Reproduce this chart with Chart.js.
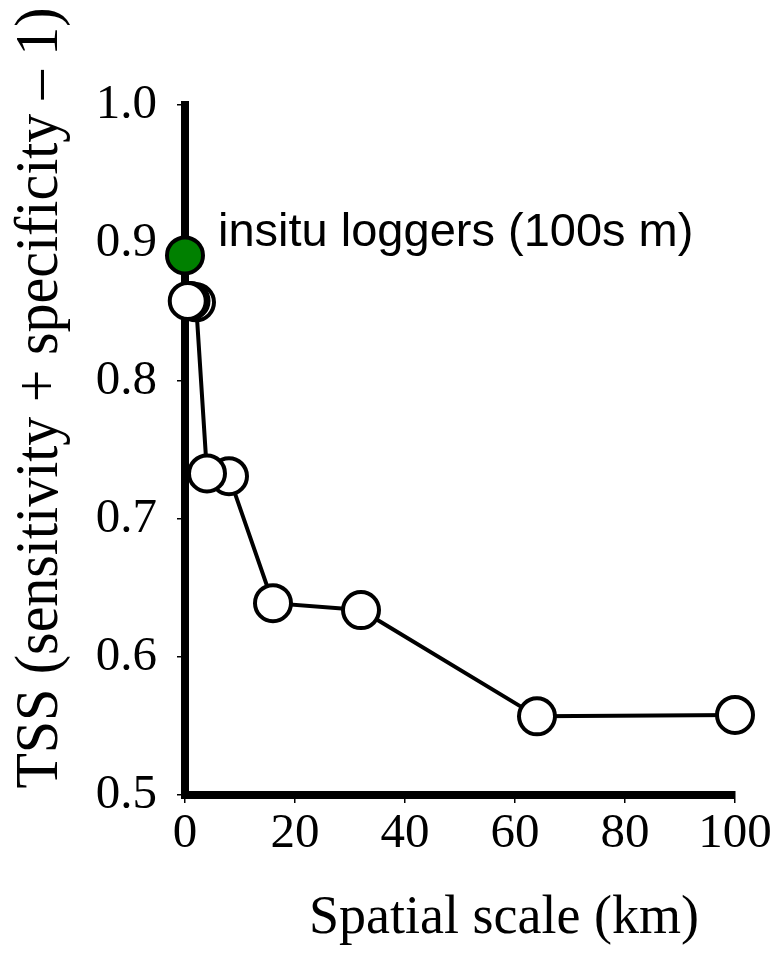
<!DOCTYPE html>
<html>
<head>
<meta charset="utf-8">
<script src="https://cdn.jsdelivr.net/npm/chart.js@4.4.1/dist/chart.umd.min.js"></script>
<style>
  body { margin: 0; background: #fff; }
</style>
</head>
<body>
<canvas id="tssChart" width="777" height="956"></canvas>
<script>
// spatial scale (km) and TSS, listed from coarse to fine so the fine ones sit on top
const scaleKm = [100, 64, 32, 16, 8, 4, 2, 1, 0.5];
const tss = [0.558, 0.557, 0.634, 0.639, 0.731, 0.733, 0.857, 0.858, 0.858];

// in situ loggers point
const loggerKm = [0];
const loggerTss = [0.891];
const loggerLabel = 'insitu loggers (100s m)';

const xTitle = 'Spatial scale (km)';
const yTitle = 'TSS (sensitivity + specificity \u2013 1)';

function toPoints(xs, ys) {
    var pts = [];
    for (var i = 0; i < xs.length; i++) {
        pts.push({ x: xs[i], y: ys[i] });
    }
    return pts;
}

const textPlugin = {
    id: 'textPlugin',
    afterDraw: function(chart) {
        var ctx = chart.ctx;
        ctx.save();
        ctx.fillStyle = '#000';

        // annotation beside the green point
        var p = chart.getDatasetMeta(1).data[0];
        ctx.font = '47px "Liberation Sans", Arial, sans-serif';
        ctx.textAlign = 'left';
        ctx.textBaseline = 'alphabetic';
        ctx.fillText(loggerLabel, p.x + 33, p.y - 9);

        // x axis title
        ctx.font = '54px "Liberation Serif", "Times New Roman", serif';
        ctx.textAlign = 'center';
        ctx.fillText(xTitle, 504, 933);

        // y axis title (a bit condensed, like the original)
        ctx.translate(57, 398);
        ctx.rotate(-Math.PI / 2);
        ctx.scale(0.95, 1);
        ctx.font = '61px "Liberation Serif", "Times New Roman", serif';
        ctx.fillText(yTitle, 0, 0);
        ctx.restore();
    }
};

new Chart(document.getElementById('tssChart'), {
    type: 'scatter',
    data: {
        datasets: [
            {
                data: toPoints(scaleKm, tss),
                showLine: true,
                borderColor: '#000',
                borderWidth: 4,
                pointRadius: 18,
                pointBackgroundColor: '#fff',
                pointBorderColor: '#000',
                pointBorderWidth: 4,
                clip: false
            },
            {
                data: toPoints(loggerKm, loggerTss),
                showLine: false,
                pointRadius: 18,
                pointBackgroundColor: '#008000',
                pointBorderColor: '#000',
                pointBorderWidth: 4,
                clip: false
            }
        ]
    },
    options: {
        responsive: false,
        animation: false,
        layout: { padding: { left: 0, top: 105, right: 42, bottom: 0 } },
        plugins: {
            legend: { display: false },
            tooltip: { enabled: false }
        },
        scales: {
            x: {
                type: 'linear',
                min: 0,
                max: 100,
                afterFit: function(scale) { scale.height = 161; },
                border: { display: true, color: '#000', width: 8 },
                grid: { drawOnChartArea: false, drawTicks: true, tickLength: 8, color: '#000', lineWidth: 1.5 },
                ticks: {
                    stepSize: 20,
                    color: '#000',
                    padding: 2,
                    maxRotation: 0,
                    font: { family: '"Liberation Serif", "Times New Roman", serif', size: 49 }
                }
            },
            y: {
                min: 0.5,
                max: 1.0,
                afterFit: function(scale) { scale.width = 185; },
                border: { display: true, color: '#000', width: 8 },
                grid: { drawOnChartArea: false, drawTicks: true, tickLength: 8, color: '#000', lineWidth: 1.5 },
                ticks: {
                    stepSize: 0.1,
                    color: '#000',
                    padding: 20,
                    font: { family: '"Liberation Serif", "Times New Roman", serif', size: 49 },
                    callback: function(value) { return value.toFixed(1); }
                }
            }
        }
    },
    plugins: [textPlugin]
});
</script>
</body>
</html>
